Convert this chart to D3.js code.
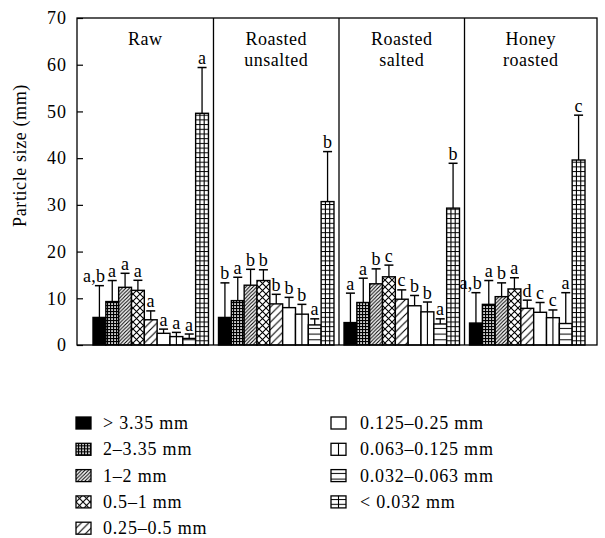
<!DOCTYPE html>
<html>
<head>
<meta charset="utf-8">
<script src="https://cdn.jsdelivr.net/npm/d3@7"></script>
<style>
html,body{margin:0;padding:0;background:#fff;}
svg{display:block;}
text{font-family:"Liberation Serif","Times New Roman",serif;fill:#000;}
</style>
</head>
<body>
<svg id="chart" width="605" height="538"></svg>
<script>
// ---- data ----
const groups = ["Raw", "Roasted unsalted", "Roasted salted", "Honey roasted"];
const groupTitleLines = [["Raw"], ["Roasted", "unsalted"], ["Roasted", "salted"], ["Honey", "roasted"]];
const sizeClasses = ["> 3.35 mm", "2–3.35 mm", "1–2 mm", "0.5–1 mm", "0.25–0.5 mm",
                     "0.125–0.25 mm", "0.063–0.125 mm", "0.032–0.063 mm", "< 0.032 mm"];
const rawMeans = [5.9, 9.3, 12.35, 11.7, 5.4, 2.5, 1.8, 1.4, 49.6];
const rawErr   = [6.8, 4.5, 3.0, 2.15, 1.9, 0.9, 0.9, 0.95, 9.8];
const rawLetters = ["a,b", "a", "a", "a", "a", "a", "a", "a", "a"];
const unsaltedMeans = [5.9, 9.5, 12.8, 13.8, 8.8, 8.0, 6.6, 4.3, 30.7];
const unsaltedErr   = [7.4, 5.0, 3.4, 2.3, 2.05, 2.2, 2.1, 1.3, 10.7];
const unsaltedLetters = ["b", "a", "b", "b", "b", "b", "b", "a", "b"];
const saltedMeans = [4.8, 9.1, 13.1, 14.6, 9.8, 8.4, 7.1, 4.5, 29.3];
const saltedErr   = [6.3, 5.2, 3.2, 2.5, 2.0, 2.2, 2.1, 1.1, 9.6];
const saltedLetters = ["a", "a", "b", "c", "c", "b", "b", "a", "b"];
const honeyMeans = [4.7, 8.7, 10.35, 12.0, 7.85, 7.0, 5.85, 4.6, 39.6];
const honeyErr   = [6.5, 5.1, 2.95, 2.4, 1.75, 2.1, 1.65, 6.6, 9.6];
const honeyLetters = ["a,b", "a", "b", "a", "d", "c", "c", "a", "c"];
const yTicks = [0, 10, 20, 30, 40, 50, 60, 70];
const yLabel = "Particle size (mm)";

const seriesMeans = [rawMeans, unsaltedMeans, saltedMeans, honeyMeans];
const seriesErr = [rawErr, unsaltedErr, saltedErr, honeyErr];
const seriesLetters = [rawLetters, unsaltedLetters, saltedLetters, honeyLetters];

const records = [];
groups.forEach((g, gi) => sizeClasses.forEach((s, si) => {
  records.push({group: g, gi, size: s, si, value: seriesMeans[gi][si], err: seriesErr[gi][si], letter: seriesLetters[gi][si]});
}));

// ---- layout ----
const svg = d3.select("#chart");
const frame = {left: 77, right: 597, top: 18, bottom: 345};
const y = d3.scaleLinear().domain([0, 70]).range([frame.bottom, frame.top]);
const x0 = d3.scaleBand().domain(groups).range([93, 585]).paddingInner(0.08).paddingOuter(0);
const x1 = d3.scaleBand().domain(sizeClasses).range([0, x0.bandwidth()]).padding(0);
const gap = x0.step() - x0.bandwidth();

// ---- patterns ----
const defs = svg.append("defs");
function pat(id, w, h, build, opts = {}) {
  const p = defs.append("pattern").attr("id", id).attr("patternUnits", "userSpaceOnUse")
    .attr("width", w).attr("height", h);
  if (opts.y != null) p.attr("y", opts.y);
  p.append("rect").attr("width", w).attr("height", h).attr("fill", opts.bg || "#fff");
  build(p);
  return p;
}
pat("pDots", 3, 3, p => {
  p.append("rect").attr("x", 0.2).attr("y", 0.2).attr("width", 1.7).attr("height", 1.7).attr("fill", "#fff");
}, {bg: "#000"});
pat("pDiagDense", 3.6, 3.6, p => {
  p.append("path").attr("d", "M-1,1 L1,-1 M0,3.6 L3.6,0 M2.6,4.6 L4.6,2.6").attr("stroke", "#000").attr("stroke-width", 1.1);
});
pat("pCross", 7, 7, p => {
  p.append("path").attr("d", "M0,0 L7,7 M0,7 L7,0").attr("stroke", "#000").attr("stroke-width", 1.1).attr("fill", "none");
});
pat("pDiagWide", 7.5, 7.5, p => {
  p.append("path").attr("d", "M-1,1 L1,-1 M0,7.5 L7.5,0 M6.5,8.5 L8.5,6.5").attr("stroke", "#000").attr("stroke-width", 1.1);
});
pat("pHoriz", 6, 5.7, p => {
  p.append("line").attr("x1", 0).attr("x2", 6).attr("y1", 0.5).attr("y2", 0.5).attr("stroke", "#000").attr("stroke-width", 1);
}, {y: frame.bottom});
pat("pGridH", 6, 4.7, p => {
  p.append("line").attr("x1", 0).attr("x2", 6).attr("y1", 0.5).attr("y2", 0.5).attr("stroke", "#000").attr("stroke-width", 1);
}, {y: frame.bottom});

const fills = ["#000", "url(#pDots)", "url(#pDiagDense)", "url(#pCross)", "url(#pDiagWide)", "#fff", "#fff", "url(#pHoriz)", "url(#pGridH)"];
const vLines = [[], [], [], [], [], [], [0.5], [], [1/3, 2/3]];

// ---- bars ----
const barX = d => x0(d.group) + x1(d.size);
const bw = x1.bandwidth();
const barG = svg.append("g");
const bars = barG.selectAll("g.bar").data(records).join("g").attr("class", "bar");
bars.append("rect")
  .attr("x", barX).attr("y", d => y(d.value))
  .attr("width", bw).attr("height", d => y(0) - y(d.value))
  .attr("fill", d => fills[d.si]).attr("stroke", "#000").attr("stroke-width", 1.4);
bars.each(function(d) {
  const g = d3.select(this);
  vLines[d.si].forEach(f => {
    g.append("line").attr("x1", barX(d) + bw * f).attr("x2", barX(d) + bw * f)
      .attr("y1", y(d.value)).attr("y2", y(0)).attr("stroke", "#000").attr("stroke-width", 1.1);
  });
});
// error bars
bars.append("line")
  .attr("x1", d => barX(d) + bw / 2).attr("x2", d => barX(d) + bw / 2)
  .attr("y1", d => y(d.value)).attr("y2", d => y(d.value + d.err))
  .attr("stroke", "#000").attr("stroke-width", 1.3);
bars.append("line")
  .attr("x1", d => barX(d) + bw / 2 - 4.5).attr("x2", d => barX(d) + bw / 2 + 4.5)
  .attr("y1", d => y(d.value + d.err)).attr("y2", d => y(d.value + d.err))
  .attr("stroke", "#000").attr("stroke-width", 1.5);
bars.append("text")
  .attr("x", d => barX(d) + bw / 2 + (d.letter.length > 1 ? 6 : 0))
  .attr("y", d => y(d.value + d.err) - 3.5)
  .attr("text-anchor", d => d.letter.length > 1 ? "end" : "middle")
  .attr("font-size", 18).attr("letter-spacing", 0.3)
  .text(d => d.letter);

// ---- frame, dividers ----
const axisG = svg.append("g");
axisG.append("rect").attr("x", frame.left).attr("y", frame.top)
  .attr("width", frame.right - frame.left).attr("height", frame.bottom - frame.top)
  .attr("fill", "none").attr("stroke", "#000").attr("stroke-width", 1.3);
groups.slice(1).forEach(g => {
  const xd = x0(g) - gap / 2;
  axisG.append("line").attr("x1", xd).attr("x2", xd).attr("y1", frame.top).attr("y2", frame.bottom)
    .attr("stroke", "#000").attr("stroke-width", 1.3);
});

// y axis ticks (inward)
const yAxis = d3.axisLeft(y).tickValues(yTicks).tickSize(-6).tickPadding(10).tickFormat(d3.format("d"));
const ya = svg.append("g").attr("transform", `translate(${frame.left},0)`).call(yAxis);
ya.select(".domain").remove();
ya.selectAll(".tick line").attr("stroke", "#000").attr("stroke-width", 1.2);
ya.selectAll(".tick text").attr("font-size", 18).attr("font-family", "Liberation Serif, serif")
  .attr("fill", "#000").attr("letter-spacing", 1);

svg.append("text").attr("transform", `translate(26,${(frame.top + frame.bottom) / 2 - 26}) rotate(-90)`)
  .attr("text-anchor", "middle").attr("font-size", 18).attr("letter-spacing", 0.6).text(yLabel);

// panel titles
groups.forEach((g, gi) => {
  const left = gi === 0 ? frame.left : x0(g) - gap / 2;
  const right = gi === groups.length - 1 ? frame.right : x0(groups[gi + 1]) - gap / 2;
  const cx = (left + right) / 2;
  const t = svg.append("text").attr("text-anchor", "middle").attr("font-size", 18).attr("letter-spacing", 0.5);
  groupTitleLines[gi].forEach((ln, li) => {
    t.append("tspan").attr("x", cx).attr("y", 45 + li * 21).text(ln);
  });
});

// ---- legend ----
const legend = svg.append("g");
const legendItems = sizeClasses.map((s, i) => ({s, i, col: i < 5 ? 0 : 1, row: i < 5 ? i : i - 5}));
const colX = [76, 331], textX = [103, 360];
const lg = legend.selectAll("g").data(legendItems).join("g")
  .attr("transform", d => `translate(${colX[d.col]},${423 + d.row * 26.3})`);
lg.append("rect").attr("x", 0).attr("y", -6).attr("width", 15).attr("height", 12)
  .attr("fill", d => fills[d.i]).attr("stroke", "#000").attr("stroke-width", 1.3);
lg.each(function(d) {
  if (vLines[d.i].length) {
    d3.select(this).append("line").attr("x1", 7.5).attr("x2", 7.5)
      .attr("y1", -6).attr("y2", 6).attr("stroke", "#000").attr("stroke-width", 1.1);
  }
});
lg.append("text").attr("x", d => textX[d.col] - colX[d.col]).attr("y", 6)
  .attr("font-size", 18).attr("letter-spacing", 0.8).text(d => d.s);
</script>
</body>
</html>
